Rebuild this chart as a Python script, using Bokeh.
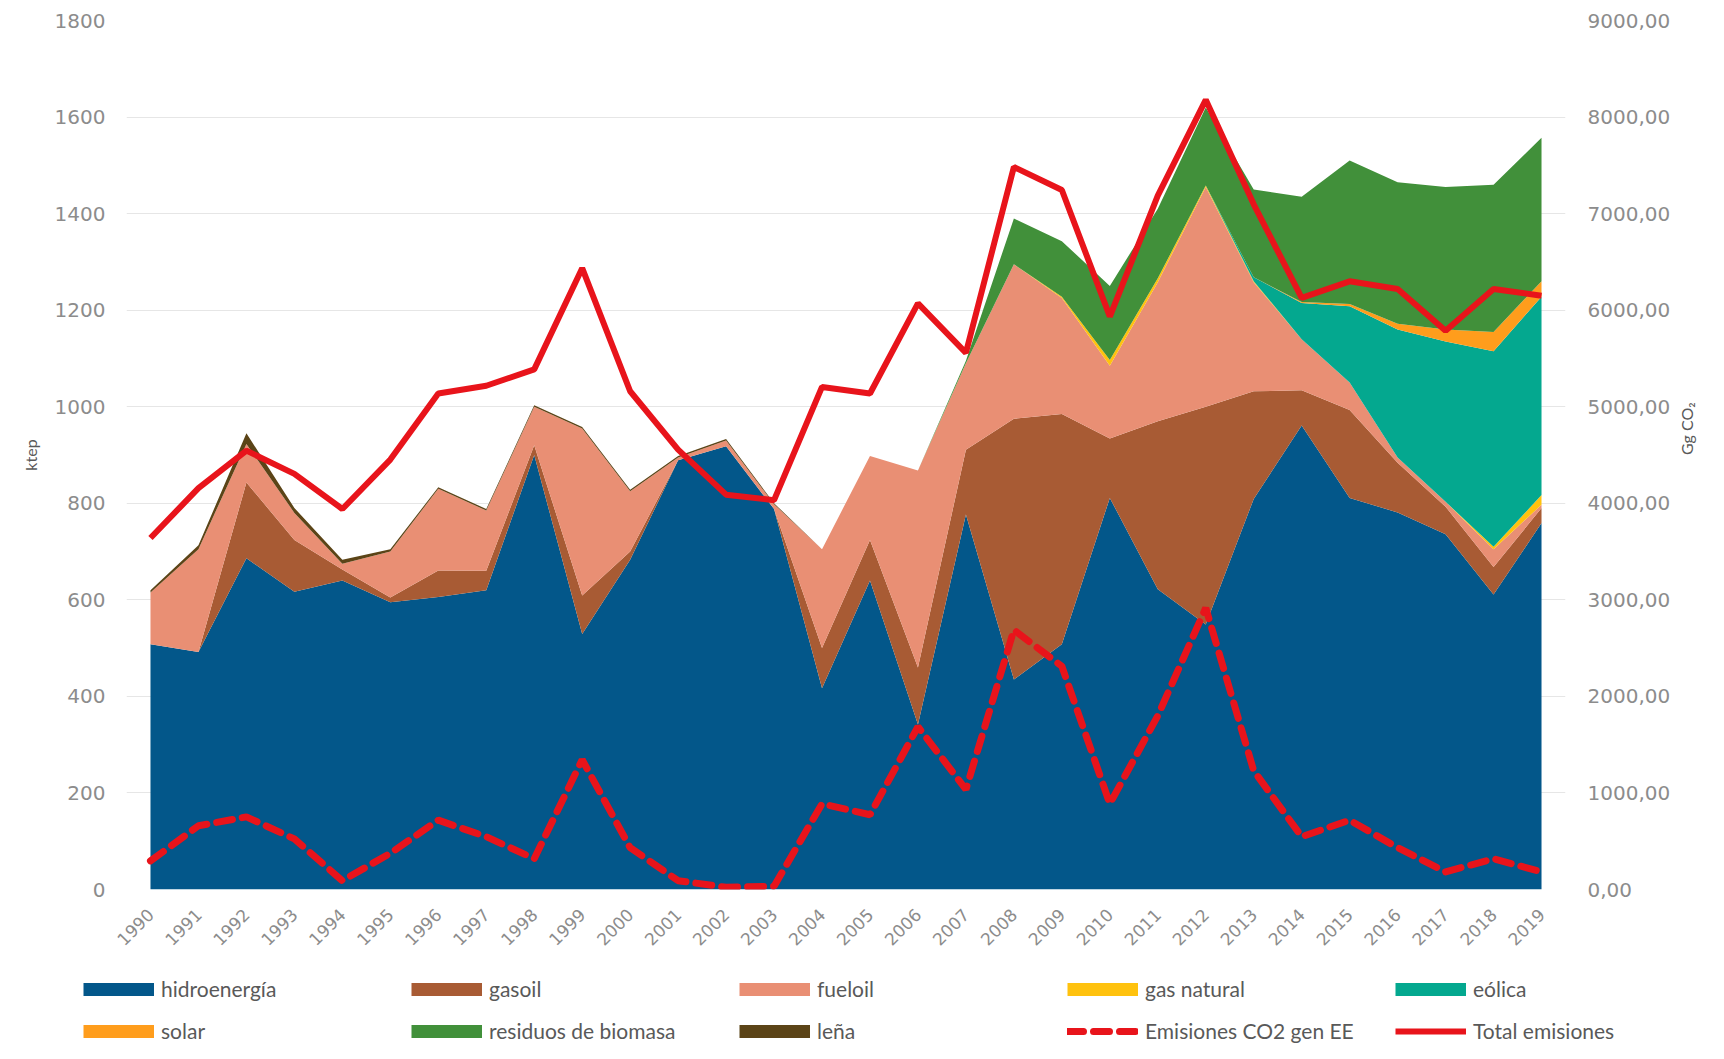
import math
from bokeh.plotting import figure
from bokeh.layouts import column
from bokeh.models import (ColumnDataSource, Range1d, LinearAxis, Legend, LegendItem,
                          FixedTicker)
from bokeh.embed import file_html
from bokeh.resources import INLINE

# ---------------- data ----------------
years = list(range(1990, 2020))

hidroenergia = [508, 492, 686, 617, 640, 595, 606, 620, 900, 529,
                683, 889, 918, 788, 417, 640, 342, 777, 435, 508,
                811, 622, 549, 809, 961, 811, 781, 736, 611, 759]
gasoil = [0, 0, 157, 107, 23, 10, 55, 40, 20, 80,
          17, 0, 0, 0, 83, 84, 118, 134, 540, 477,
          123, 348, 451, 223, 73, 182, 103, 57, 57, 31]
fueloil = [107, 213, 80, 56, 12, 95, 169, 125, 80, 346,
           125, 6, 12, 10, 205, 174, 408, 179, 320, 240,
           151, 288, 455, 226, 106, 57, 11, 10, 37, 7]
gas_natural = [0, 0, 0, 0, 0, 0, 0, 0, 0, 0,
               0, 0, 0, 0, 0, 0, 0, 0, 0, 3,
               12, 8, 3, 2, 0, 0, 0, 0, 5, 20]
eolica = [0, 0, 0, 0, 0, 0, 0, 0, 0, 0,
          0, 0, 0, 0, 0, 0, 0, 0, 0, 0,
          0, 0, 0, 8, 75, 158, 265, 332, 405, 411]
solar = [0, 0, 0, 0, 0, 0, 0, 0, 0, 0,
         0, 0, 0, 0, 0, 0, 0, 0, 0, 0,
         0, 0, 0, 0, 2, 5, 12, 25, 40, 32]
residuos_biomasa = [0, 0, 0, 0, 0, 0, 0, 0, 0, 0,
                    0, 0, 0, 0, 0, 0, 0, 5, 95, 115,
                    153, 144, 162, 182, 218, 297, 293, 295, 305, 297]
lena = [5, 8, 22, 10, 8, 5, 3, 3, 3, 3,
        3, 3, 3, 2, 0, 0, 0, 0, 0, 0,
        0, 0, 0, 0, 0, 0, 0, 0, 0, 0]

emisiones_gen_ee = [296, 660, 752, 524, 91, 376, 718, 547, 319, 1344,
                    433, 91, 23, 34, 888, 774, 1686, 1036, 2688, 2312,
                    888, 1800, 2916, 1230, 547, 718, 433, 182, 319, 182]
total_emisiones = [3640, 4157, 4545, 4305, 3941, 4453, 5137, 5217, 5387, 6435,
                   5160, 4556, 4089, 4032, 5205, 5137, 6071, 5558, 7483, 7244,
                   5934, 7187, 8178, 7096, 6128, 6299, 6219, 5786, 6219, 6150]

area_keys = ["hidroenergia", "gasoil", "fueloil", "gas_natural", "eolica",
             "solar", "residuos_biomasa", "lena"]
area_labels = ["hidroenergía", "gasoil", "fueloil", "gas natural", "eólica",
               "solar", "residuos de biomasa", "leña"]
area_colors = ["#03578A", "#A85B34", "#E98F74", "#FFC20E", "#04A88F",
               "#FF9D1C", "#41903A", "#5B4417"]
line_keys = ["emisiones_gen_ee", "total_emisiones"]
line_labels = ["Emisiones CO2 gen EE", "Total emisiones"]
red = "#E8141B"

ktep_ticks = [0, 200, 400, 600, 800, 1000, 1200, 1400, 1600, 1800]
co2_ticks = [0, 1000, 2000, 3000, 4000, 5000, 6000, 7000, 8000, 9000]
co2_tick_labels = ["0,00", "1000,00", "2000,00", "3000,00", "4000,00",
                   "5000,00", "6000,00", "7000,00", "8000,00", "9000,00"]

source = ColumnDataSource(dict(
    year=years, hidroenergia=hidroenergia, gasoil=gasoil, fueloil=fueloil,
    gas_natural=gas_natural, eolica=eolica, solar=solar,
    residuos_biomasa=residuos_biomasa, lena=lena,
    emisiones_gen_ee=emisiones_gen_ee, total_emisiones=total_emisiones))

# ---------------- main figure ----------------
p = figure(width=1708, height=969, output_backend="svg", toolbar_location=None,
           x_range=Range1d(1989.5, 2019.5), y_range=Range1d(0, 1800),
           min_border_left=126, min_border_right=131,
           min_border_top=20, min_border_bottom=80)
p.outline_line_color = None
p.background_fill_color = "white"
p.extra_y_ranges = {"co2": Range1d(0, 9000)}

p.varea_stack(stackers=area_keys, x="year", color=area_colors, source=source)

line_styles = [dict(line_color=red, line_width=7, line_dash="16 10", line_cap="round"),
               dict(line_color=red, line_width=6)]
for k, st in zip(line_keys, line_styles):
    p.line("year", k, source=source, y_range_name="co2", **st)

tick_font = "DejaVu Sans"
tick_color = "#8C8C8C"

# left axis
ya = p.yaxis[0]
ya.ticker = FixedTicker(ticks=ktep_ticks)
ya.axis_label = "ktep"
ya.axis_label_text_font = "Lato"
ya.axis_label_text_font_size = "16px"
ya.axis_label_text_font_style = "normal"
ya.axis_label_text_color = "#595959"
ya.axis_label_standoff = 12
ya.major_label_text_font = tick_font
ya.major_label_text_font_size = "20px"
ya.major_label_text_color = tick_color
ya.major_label_standoff = 15
ya.axis_line_color = None
ya.major_tick_line_color = None
ya.minor_tick_line_color = None

# right axis
ra = LinearAxis(y_range_name="co2", ticker=FixedTicker(ticks=co2_ticks),
                major_label_overrides={t: s for t, s in zip(co2_ticks, co2_tick_labels)})
ra.axis_label = "Gg CO₂"
ra.axis_label_text_font = "Lato"
ra.axis_label_text_font_size = "16px"
ra.axis_label_text_font_style = "normal"
ra.axis_label_text_color = "#595959"
ra.axis_label_standoff = 13
try:
    ra.axis_label_orientation = math.pi / 2
except Exception:
    pass
ra.major_label_text_font = tick_font
ra.major_label_text_font_size = "20px"
ra.major_label_text_color = tick_color
ra.major_label_standoff = 16
ra.axis_line_color = None
ra.major_tick_line_color = None
ra.minor_tick_line_color = None
p.add_layout(ra, "right")

# x axis
xa = p.xaxis[0]
xa.ticker = FixedTicker(ticks=years)
xa.major_label_orientation = math.pi / 4
xa.major_label_text_font = tick_font
xa.major_label_text_font_size = "17px"
xa.major_label_text_color = tick_color
xa.major_label_standoff = 16
xa.axis_line_color = None
xa.major_tick_line_color = None
xa.minor_tick_line_color = None

p.xgrid.grid_line_color = None
p.ygrid.ticker = FixedTicker(ticks=ktep_ticks)
p.ygrid.grid_line_color = "#E6E6E6"
p.ygrid.grid_line_width = 1

# ---------------- legend strip (separate figure below) ----------------
pl = figure(width=1708, height=74, output_backend="svg", toolbar_location=None,
            x_range=Range1d(0, 1), y_range=Range1d(0, 1),
            x_axis_type=None, y_axis_type=None,
            min_border_left=0, min_border_right=0, min_border_top=0, min_border_bottom=0)
pl.outline_line_color = None
pl.xgrid.grid_line_color = None
pl.ygrid.grid_line_color = None
leg_x = 83
try:
    pl.frame_align = False
except Exception:
    leg_x = 83 - 126

# legend proxies: same data, drawn outside this strip's visible range
items = []
for k, lab, c in zip(area_keys, area_labels, area_colors):
    r = pl.line("year", k, source=source, line_color=c, line_width=13, line_cap="butt")
    items.append(LegendItem(label=lab, renderers=[r]))
for k, lab, st in zip(line_keys, line_labels, line_styles):
    r = pl.line("year", k, source=source, **st)
    items.append(LegendItem(label=lab, renderers=[r]))

legend = Legend(items=items, location=(leg_x, 0), orientation="horizontal", ncols=5,
                glyph_width=71, glyph_height=22, label_width=233, label_height=22,
                spacing=17, padding=0, margin=0, label_standoff=7,
                border_line_alpha=0, background_fill_alpha=0,
                label_text_font="Lato", label_text_font_size="21px",
                label_text_color="#595959")
pl.add_layout(legend)

layout = column(p, pl, spacing=0)
open("out.html", "w").write(file_html(layout, INLINE))
